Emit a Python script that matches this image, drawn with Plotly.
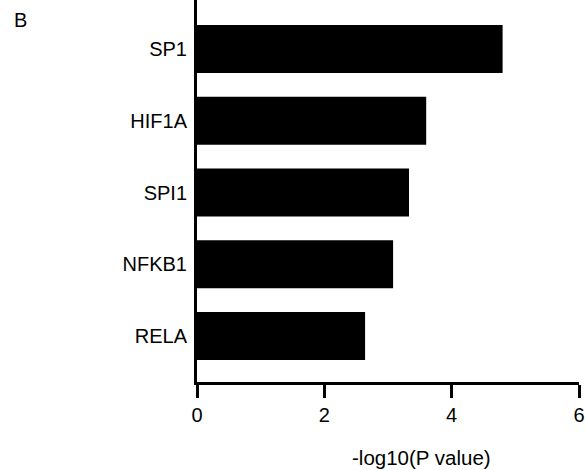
import plotly.graph_objects as go

genes = ["SP1", "HIF1A", "SPI1", "NFKB1", "RELA"]
neg_log10_p = [4.80, 3.60, 3.33, 3.08, 2.64]
x_ticks = [0, 2, 4, 6]
x_title = "-log10(P value)"
panel_label = "B"

FONT = "Liberation Sans, Arial, sans-serif"

fig = go.Figure(go.Bar(
    x=neg_log10_p, y=genes, orientation="h",
    marker=dict(color="black", line=dict(width=0)),
    width=0.67,
))

L, R, T, B = 197, 6, 0, 88
W, H = 585, 470
pw = W - L - R
ph = H - T - B

fig.update_layout(
    width=W, height=H,
    margin=dict(l=L, r=R, t=T, b=B, pad=0),
    plot_bgcolor="white", paper_bgcolor="white",
    font=dict(family=FONT, size=20, color="black"),
    showlegend=False,
    xaxis=dict(
        range=[0, 6], tickvals=x_ticks, ticktext=[str(v) for v in x_ticks],
        showgrid=False, zeroline=False,
        showline=True, linecolor="black", linewidth=3,
        ticks="outside", ticklen=13, tickwidth=3, tickcolor="black",
        tickfont=dict(size=20),
        automargin=False,
    ),
    yaxis=dict(
        type="category", categoryorder="array", categoryarray=genes,
        range=[4.64, -0.683],
        showgrid=False, zeroline=False,
        showline=True, linecolor="black", linewidth=3,
        ticks="outside", ticklen=3, tickcolor="rgba(0,0,0,0)",
        tickfont=dict(size=20),
        automargin=False,
    ),
    annotations=[
        dict(text=x_title, xref="paper", yref="paper",
             x=(421.5 - L) / pw, y=(ph - (457 - T)) / ph,
             xanchor="center", yanchor="middle", showarrow=False,
             font=dict(size=20.5)),
        dict(text=panel_label, xref="paper", yref="paper",
             x=(20.5 - L) / pw, y=(ph - (20.5 - T)) / ph,
             xanchor="center", yanchor="middle", showarrow=False,
             font=dict(size=20)),
    ],
)

fig.write_html("out.html", config={"displayModeBar": False},
               post_script="document.body.style.margin='0';")
